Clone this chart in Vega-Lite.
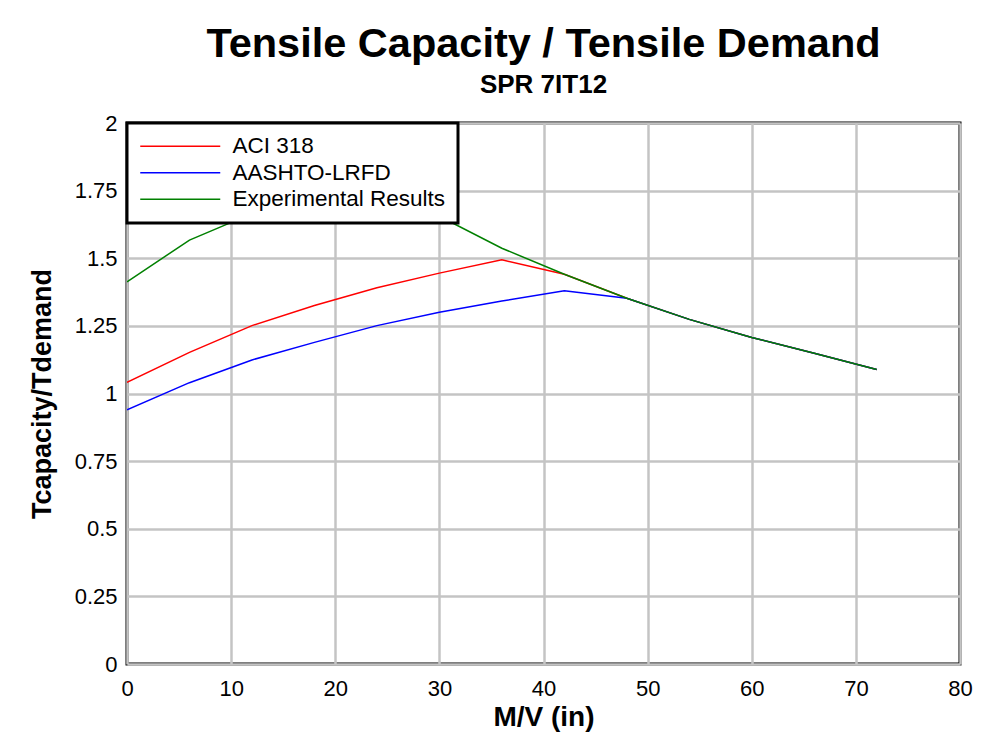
{
  "$schema": "https://vega.github.io/schema/vega-lite/v6.json",
  "width": 833,
  "height": 541,
  "autosize": {"type": "none"},
  "padding": {"left": 127, "top": 123, "right": 32, "bottom": 78},
  "background": "white",
  "title": {
    "text": "Tensile Capacity / Tensile Demand",
    "subtitle": "SPR 7IT12",
    "anchor": "middle",
    "frame": "group",
    "font": "Liberation Sans",
    "fontSize": 41.5,
    "fontWeight": "bold",
    "color": "black",
    "subtitleFont": "Liberation Sans",
    "subtitleFontSize": 26,
    "subtitleFontWeight": "bold",
    "subtitleColor": "black",
    "subtitlePadding": 7,
    "offset": 14
  },
  "config": {
    "view": {"stroke": "black", "strokeWidth": 3},
    "font": "Liberation Sans"
  },
  "data": {
    "values": [
      {"series": "ACI 318", "mv": 0, "ratio": 1.041},
      {"series": "ACI 318", "mv": 6, "ratio": 1.152},
      {"series": "ACI 318", "mv": 12, "ratio": 1.251},
      {"series": "ACI 318", "mv": 18, "ratio": 1.325},
      {"series": "ACI 318", "mv": 24, "ratio": 1.391},
      {"series": "ACI 318", "mv": 30, "ratio": 1.445},
      {"series": "ACI 318", "mv": 36, "ratio": 1.494},
      {"series": "ACI 318", "mv": 42, "ratio": 1.441},
      {"series": "ACI 318", "mv": 48, "ratio": 1.352},
      {"series": "ACI 318", "mv": 54, "ratio": 1.274},
      {"series": "ACI 318", "mv": 60, "ratio": 1.207},
      {"series": "ACI 318", "mv": 66, "ratio": 1.149},
      {"series": "ACI 318", "mv": 72, "ratio": 1.089},
      {"series": "AASHTO-LRFD", "mv": 0, "ratio": 0.94},
      {"series": "AASHTO-LRFD", "mv": 6, "ratio": 1.04},
      {"series": "AASHTO-LRFD", "mv": 12, "ratio": 1.124},
      {"series": "AASHTO-LRFD", "mv": 18, "ratio": 1.189},
      {"series": "AASHTO-LRFD", "mv": 24, "ratio": 1.251},
      {"series": "AASHTO-LRFD", "mv": 30, "ratio": 1.3},
      {"series": "AASHTO-LRFD", "mv": 36, "ratio": 1.342},
      {"series": "AASHTO-LRFD", "mv": 42, "ratio": 1.38},
      {"series": "AASHTO-LRFD", "mv": 48, "ratio": 1.352},
      {"series": "AASHTO-LRFD", "mv": 54, "ratio": 1.274},
      {"series": "AASHTO-LRFD", "mv": 60, "ratio": 1.207},
      {"series": "AASHTO-LRFD", "mv": 66, "ratio": 1.149},
      {"series": "AASHTO-LRFD", "mv": 72, "ratio": 1.089},
      {"series": "Experimental Results", "mv": 0, "ratio": 1.413},
      {"series": "Experimental Results", "mv": 6, "ratio": 1.567},
      {"series": "Experimental Results", "mv": 12, "ratio": 1.665},
      {"series": "Experimental Results", "mv": 18, "ratio": 1.71},
      {"series": "Experimental Results", "mv": 24, "ratio": 1.705},
      {"series": "Experimental Results", "mv": 30, "ratio": 1.655},
      {"series": "Experimental Results", "mv": 36, "ratio": 1.537},
      {"series": "Experimental Results", "mv": 42, "ratio": 1.441},
      {"series": "Experimental Results", "mv": 48, "ratio": 1.352},
      {"series": "Experimental Results", "mv": 54, "ratio": 1.274},
      {"series": "Experimental Results", "mv": 60, "ratio": 1.207},
      {"series": "Experimental Results", "mv": 66, "ratio": 1.149},
      {"series": "Experimental Results", "mv": 72, "ratio": 1.089}
    ]
  },
  "mark": {"type": "line", "strokeWidth": 1.5, "clip": true},
  "encoding": {
    "x": {
      "field": "mv",
      "type": "quantitative",
      "scale": {"domain": [0, 80], "nice": false, "zero": true},
      "axis": {
        "title": "M/V (in)",
        "values": [0, 10, 20, 30, 40, 50, 60, 70, 80],
        "grid": true,
        "gridColor": "#c4c4c4",
        "gridWidth": 2.5,
        "domain": false,
        "ticks": false,
        "labelFont": "Liberation Sans",
        "labelFontSize": 22,
        "labelColor": "black",
        "labelPadding": 14,
        "labelFlush": false,
        "titleFont": "Liberation Sans",
        "titleFontSize": 28,
        "titleFontWeight": "bold",
        "titleColor": "black",
        "titlePadding": 4
      }
    },
    "y": {
      "field": "ratio",
      "type": "quantitative",
      "scale": {"domain": [0, 2], "nice": false},
      "axis": {
        "title": "Tcapacity/Tdemand",
        "values": [0, 0.25, 0.5, 0.75, 1, 1.25, 1.5, 1.75, 2],
        "labelExpr": "format(datum.value, '.3~g')",
        "grid": true,
        "gridColor": "#c4c4c4",
        "gridWidth": 2.5,
        "domain": false,
        "ticks": false,
        "labelFont": "Liberation Sans",
        "labelFontSize": 22,
        "labelColor": "black",
        "labelPadding": 10,
        "labelFlush": false,
        "titleFont": "Liberation Sans",
        "titleFontSize": 27,
        "titleFontWeight": "bold",
        "titleColor": "black",
        "titlePadding": 18
      }
    },
    "color": {
      "field": "series",
      "type": "nominal",
      "scale": {
        "domain": ["ACI 318", "AASHTO-LRFD", "Experimental Results"],
        "range": ["#ff0000", "#0000ff", "#008000"]
      },
      "legend": {
        "title": null,
        "orient": "none",
        "legendX": 0,
        "legendY": 0,
        "fillColor": "white",
        "strokeColor": "black",
        "padding": 12,
        "symbolType": "M-1,0H7",
        "symbolSize": 400,
        "symbolStrokeWidth": 1.5,
        "labelFont": "Liberation Sans",
        "labelFontSize": 22.5,
        "labelColor": "black",
        "labelOffset": 71,
        "rowPadding": 3.5,
        "labelLimit": 400,
        "encode": {"legend": {"update": {"strokeWidth": {"value": 3}}}}
      }
    }
  }
}
